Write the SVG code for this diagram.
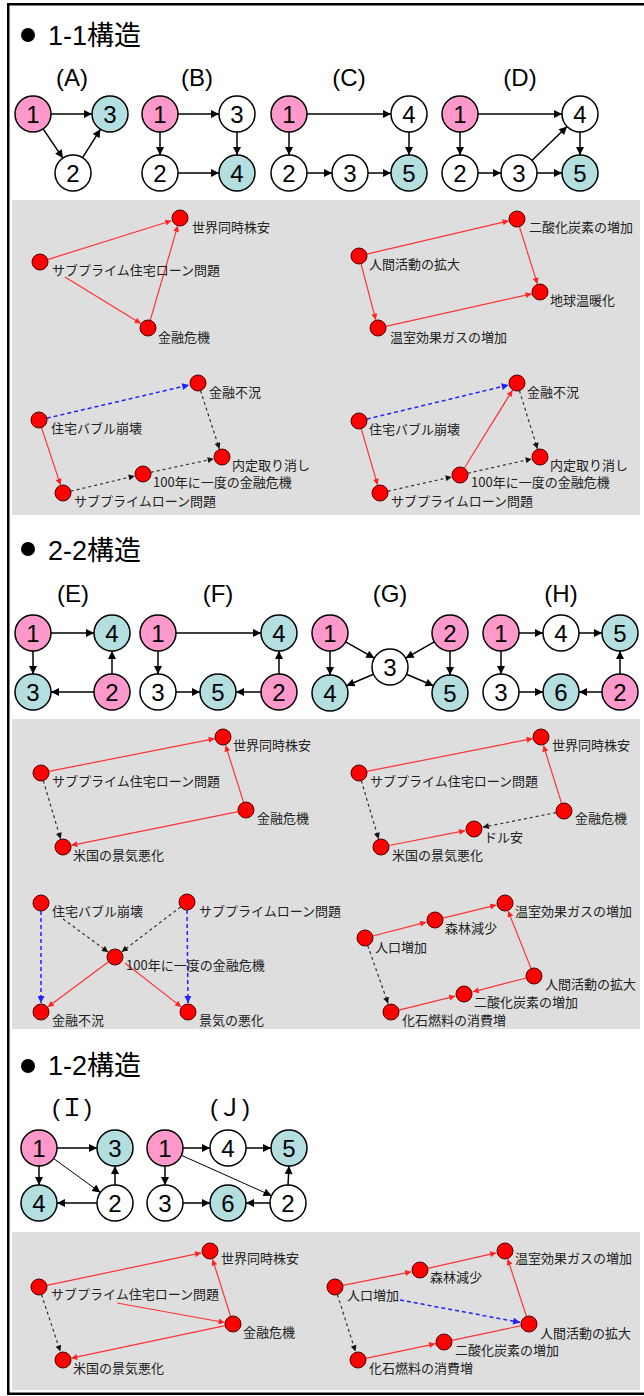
<svg xmlns="http://www.w3.org/2000/svg" width="644" height="1396" viewBox="0 0 644 1396">
<style>
.n circle{stroke:#000;stroke-width:1.5}
.p{fill:#ff99cc}.t{fill:#b4dfe0}.w{fill:#fff}
.num{font:24px "Liberation Sans",sans-serif;text-anchor:middle;fill:#000}
.lab{font:24px "Liberation Sans","Noto Sans CJK JP",sans-serif;text-anchor:middle;fill:#000}
.hd{font:27px "Liberation Sans","Noto Sans CJK JP",sans-serif;fill:#000}
.d circle{fill:#f00;stroke:#500;stroke-width:1}
.d text{font:13px "Noto Sans CJK JP",sans-serif;fill:#222}
.e{stroke:#000;stroke-width:1.5;fill:none;marker-end:url(#ab)}
.e1{stroke:#000;stroke-width:1;fill:none;marker-end:url(#ab)}
.r{stroke:#f33;stroke-width:1.2;fill:none;marker-end:url(#ar)}
.k{stroke:#333;stroke-width:1.2;stroke-dasharray:3 3;fill:none;marker-end:url(#ak)}
.b{stroke:#22f;stroke-width:1.5;stroke-dasharray:4 3;fill:none;marker-end:url(#au)}
.panel{fill:#dedede}
</style>
<defs>
<marker id="ab" viewBox="0 0 10 10" refX="10" refY="5" markerWidth="9" markerHeight="8" markerUnits="userSpaceOnUse" orient="auto"><path d="M0,0L10,5L0,10z" fill="#000"/></marker>
<marker id="ar" viewBox="0 0 10 10" refX="10" refY="5" markerWidth="8" markerHeight="6" markerUnits="userSpaceOnUse" orient="auto"><path d="M0,0L10,5L0,10z" fill="#f22"/></marker>
<marker id="ak" viewBox="0 0 10 10" refX="10" refY="5" markerWidth="8" markerHeight="6" markerUnits="userSpaceOnUse" orient="auto"><path d="M0,0L10,5L0,10z" fill="#111"/></marker>
<marker id="au" viewBox="0 0 10 10" refX="10" refY="5" markerWidth="8" markerHeight="7" markerUnits="userSpaceOnUse" orient="auto"><path d="M0,0L10,5L0,10z" fill="#22f"/></marker>
</defs>
<rect x="0" y="0" width="644" height="1396" fill="#fff"/>
<rect x="8.25" y="4.25" width="640" height="1389.5" fill="none" stroke="#000" stroke-width="2.5"/>

<!-- panels -->
<rect class="panel" x="12" y="200" width="628" height="315"/>
<rect class="panel" x="12" y="719" width="628" height="310"/>
<rect class="panel" x="12" y="1232" width="628" height="158"/>

<!-- headers -->
<g id="h1"><circle cx="28" cy="35" r="7"/><text class="hd" x="48" y="45">1-1構造</text></g>
<g id="h2"><circle cx="28" cy="549" r="7"/><text class="hd" x="48" y="560">2-2構造</text></g>
<g id="h3"><circle cx="28" cy="1066" r="7"/><text class="hd" x="48" y="1075">1-2構造</text></g>

<!-- diagram labels -->
<g id="labels">
<text class="lab" x="72" y="86">(A)</text>
<text class="lab" x="197" y="86">(B)</text>
<text class="lab" x="349" y="86">(C)</text>
<text class="lab" x="520" y="86">(D)</text>
<text class="lab" x="73" y="602">(E)</text>
<text class="lab" x="218" y="602">(F)</text>
<text class="lab" x="390" y="602">(G)</text>
<text class="lab" x="561" y="602">(H)</text>
<text class="lab" x="72" y="1116">(Ｉ)</text>
<text class="lab" x="230" y="1116">(Ｊ)</text>
</g>

<!-- connectors -->
<g id="connectors">
<line class="e" x1="51" y1="114" x2="92" y2="114"/>
<line class="e" x1="43.1" y1="128.9" x2="62.9" y2="158.1"/>
<line class="e" x1="82.6" y1="157.7" x2="100.4" y2="129.3"/>
<line class="e" x1="178" y1="114" x2="219" y2="114"/>
<line class="e" x1="160" y1="132" x2="160" y2="155"/>
<line class="e" x1="237" y1="132" x2="237" y2="155"/>
<line class="e" x1="178" y1="173" x2="219" y2="173"/>
<line class="e" x1="307" y1="114" x2="391" y2="114"/>
<line class="e" x1="289" y1="132" x2="289" y2="155"/>
<line class="e" x1="307" y1="173" x2="332" y2="173"/>
<line class="e" x1="368" y1="173" x2="391" y2="173"/>
<line class="e" x1="409" y1="132" x2="409" y2="155"/>
<line class="e" x1="478" y1="114" x2="562" y2="114"/>
<line class="e" x1="460" y1="132" x2="460" y2="155"/>
<line class="e" x1="478" y1="173" x2="501" y2="173"/>
<line class="e" x1="537" y1="173" x2="562" y2="173"/>
<line class="e" x1="580" y1="132" x2="580" y2="155"/>
<line class="e" x1="531.9" y1="160.5" x2="567.1" y2="126.5"/>
<line class="e" x1="51" y1="633" x2="94" y2="633"/>
<line class="e" x1="33" y1="651" x2="33" y2="674"/>
<line class="e" x1="94" y1="692" x2="51" y2="692"/>
<line class="e" x1="112" y1="674" x2="112" y2="651"/>
<line class="e" x1="176" y1="633" x2="261" y2="633"/>
<line class="e" x1="158" y1="651" x2="158" y2="674"/>
<line class="e" x1="176" y1="692" x2="200" y2="692"/>
<line class="e" x1="261" y1="692" x2="236" y2="692"/>
<line class="e" x1="279" y1="674" x2="279" y2="651"/>
<line class="e" x1="345.7" y1="641.9" x2="374.3" y2="658.1"/>
<line class="e" x1="434.3" y1="641.9" x2="405.7" y2="658.1"/>
<line class="e" x1="330" y1="651" x2="330" y2="675"/>
<line class="e" x1="450" y1="651" x2="450" y2="675"/>
<line class="e" x1="373.5" y1="674.2" x2="346.5" y2="685.8"/>
<line class="e" x1="406.5" y1="674.2" x2="433.5" y2="685.8"/>
<line class="e" x1="519" y1="633" x2="543" y2="633"/>
<line class="e" x1="579" y1="633" x2="602" y2="633"/>
<line class="e" x1="501" y1="651" x2="501" y2="674"/>
<line class="e" x1="519" y1="692" x2="543" y2="692"/>
<line class="e" x1="602" y1="692" x2="579" y2="692"/>
<line class="e" x1="620" y1="674" x2="620" y2="651"/>
<line class="e" x1="57" y1="1148" x2="97" y2="1148"/>
<line class="e" x1="39" y1="1166" x2="39" y2="1185"/>
<line class="e" x1="115" y1="1185" x2="115" y2="1166"/>
<line class="e" x1="97" y1="1203" x2="57" y2="1203"/>
<line class="e1" x1="53.6" y1="1158.5" x2="100.4" y2="1192.5"/>
<line class="e" x1="183" y1="1148" x2="210" y2="1148"/>
<line class="e" x1="246" y1="1148" x2="271" y2="1148"/>
<line class="e" x1="165" y1="1166" x2="165" y2="1185"/>
<line class="e" x1="183" y1="1203" x2="210" y2="1203"/>
<line class="e" x1="270" y1="1203" x2="246" y2="1203"/>
<line class="e" x1="288" y1="1185" x2="289" y2="1166"/>
<line class="e1" x1="181.4" y1="1155.3" x2="271.6" y2="1195.7"/>

<line class="r" x1="47.6" y1="259.6" x2="171.4" y2="220.7"/>
<line class="r" x1="65" y1="277" x2="140.8" y2="323.5"/>
<line class="r" x1="150.2" y1="320.3" x2="177.8" y2="225.7"/>
<line class="b" x1="46.8" y1="418.2" x2="189.2" y2="385"/>
<line class="k" x1="200.5" y1="390.6" x2="219.4" y2="448.9"/>
<line class="r" x1="41.5" y1="427.6" x2="60.5" y2="484.9"/>
<line class="k" x1="70.8" y1="491.2" x2="134.7" y2="476"/>
<line class="k" x1="150.8" y1="472.3" x2="213.7" y2="458.8"/>
<line class="r" x1="366.8" y1="254.2" x2="508.7" y2="220.9"/>
<line class="r" x1="519.4" y1="226.6" x2="537.4" y2="283.9"/>
<line class="r" x1="361" y1="263.7" x2="375.8" y2="319.8"/>
<line class="r" x1="385.8" y1="326.3" x2="531.7" y2="293.8"/>
<line class="b" x1="366.8" y1="419.1" x2="508.7" y2="385"/>
<line class="k" x1="519.4" y1="390.6" x2="537.5" y2="448.9"/>
<line class="r" x1="361.2" y1="428.7" x2="377.6" y2="484.8"/>
<line class="k" x1="387.8" y1="491.2" x2="451.7" y2="476.9"/>
<line class="k" x1="467.8" y1="473.2" x2="531.7" y2="458.9"/>
<line class="r" x1="464.2" y1="468.2" x2="512.5" y2="390.2"/>
<line class="r" x1="48.8" y1="771.4" x2="214.7" y2="738.6"/>
<line class="r" x1="243.6" y1="802.4" x2="225.6" y2="745.4"/>
<line class="r" x1="238.2" y1="811.6" x2="71.3" y2="845.3"/>
<line class="k" x1="43.3" y1="780.7" x2="60.6" y2="838.9"/>
<line class="k" x1="63" y1="919" x2="108.1" y2="952"/>
<line class="k" x1="180.6" y1="906.9" x2="121.8" y2="951.8"/>
<line class="r" x1="108.6" y1="961.8" x2="47.8" y2="1007"/>
<line class="r" x1="125" y1="963" x2="181.2" y2="1006.9"/>
<line class="b" x1="41" y1="911" x2="41" y2="1003"/>
<line class="b" x1="187" y1="910" x2="188" y2="1003"/>
<line class="r" x1="366.8" y1="771.4" x2="532.7" y2="738.6"/>
<line class="r" x1="561.6" y1="803.4" x2="543.5" y2="745.6"/>
<line class="k" x1="556.2" y1="812.6" x2="482.8" y2="827.2"/>
<line class="k" x1="361.3" y1="780.7" x2="378.6" y2="838.9"/>
<line class="r" x1="388.9" y1="845.5" x2="465.2" y2="830.7"/>
<line class="r" x1="372.7" y1="936" x2="426.3" y2="922.2"/>
<line class="r" x1="442.8" y1="918.1" x2="496.3" y2="905.1"/>
<line class="r" x1="531.1" y1="968.6" x2="508.1" y2="910.9"/>
<line class="r" x1="526.3" y1="978" x2="472.7" y2="991.8"/>
<line class="r" x1="398.8" y1="1010.1" x2="455.3" y2="996.1"/>
<line class="k" x1="367.7" y1="945.6" x2="388.1" y2="1003.5"/>
<line class="r" x1="46.8" y1="1285.4" x2="201.2" y2="1252.9"/>
<line class="r" x1="117" y1="1303" x2="224.6" y2="1322.5"/>
<line class="r" x1="230.6" y1="1316.4" x2="212.6" y2="1259.4"/>
<line class="r" x1="225.2" y1="1325.7" x2="71.3" y2="1358.2"/>
<line class="k" x1="41.5" y1="1294.6" x2="60.3" y2="1351.5"/>
<line class="r" x1="342.8" y1="1285.4" x2="411.2" y2="1271.8"/>
<line class="r" x1="427.8" y1="1268.3" x2="496.2" y2="1252.9"/>
<line class="r" x1="526.5" y1="1316.4" x2="507.7" y2="1259.1"/>
<line class="r" x1="521.2" y1="1325.7" x2="435.2" y2="1343.9"/>
<line class="r" x1="365.8" y1="1358.4" x2="435.2" y2="1343.8"/>
<line class="k" x1="337.4" y1="1294.6" x2="355.4" y2="1351.4"/>
<line class="b" x1="400" y1="1300" x2="520.2" y2="1322.4"/>
</g>

<g id="A1" class="n"><circle class="p" cx="33" cy="114" r="18"/><text class="num" x="33" y="122.5">1</text></g>
<g id="A3" class="n"><circle class="t" cx="110" cy="114" r="18"/><text class="num" x="110" y="122.5">3</text></g>
<g id="A2" class="n"><circle class="w" cx="73" cy="173" r="18"/><text class="num" x="73" y="181.5">2</text></g>

<g id="B1" class="n"><circle class="p" cx="160" cy="114" r="18"/><text class="num" x="160" y="122.5">1</text></g>
<g id="B3" class="n"><circle class="w" cx="237" cy="114" r="18"/><text class="num" x="237" y="122.5">3</text></g>
<g id="B2" class="n"><circle class="w" cx="160" cy="173" r="18"/><text class="num" x="160" y="181.5">2</text></g>
<g id="B4" class="n"><circle class="t" cx="237" cy="173" r="18"/><text class="num" x="237" y="181.5">4</text></g>

<g id="C1" class="n"><circle class="p" cx="289" cy="114" r="18"/><text class="num" x="289" y="122.5">1</text></g>
<g id="C4" class="n"><circle class="w" cx="409" cy="114" r="18"/><text class="num" x="409" y="122.5">4</text></g>
<g id="C2" class="n"><circle class="w" cx="289" cy="173" r="18"/><text class="num" x="289" y="181.5">2</text></g>
<g id="C3" class="n"><circle class="w" cx="350" cy="173" r="18"/><text class="num" x="350" y="181.5">3</text></g>
<g id="C5" class="n"><circle class="t" cx="409" cy="173" r="18"/><text class="num" x="409" y="181.5">5</text></g>

<g id="D1" class="n"><circle class="p" cx="460" cy="114" r="18"/><text class="num" x="460" y="122.5">1</text></g>
<g id="D4" class="n"><circle class="w" cx="580" cy="114" r="18"/><text class="num" x="580" y="122.5">4</text></g>
<g id="D2" class="n"><circle class="w" cx="460" cy="173" r="18"/><text class="num" x="460" y="181.5">2</text></g>
<g id="D3" class="n"><circle class="w" cx="519" cy="173" r="18"/><text class="num" x="519" y="181.5">3</text></g>
<g id="D5" class="n"><circle class="t" cx="580" cy="173" r="18"/><text class="num" x="580" y="181.5">5</text></g>

<g id="E1" class="n"><circle class="p" cx="33" cy="633" r="18"/><text class="num" x="33" y="641.5">1</text></g>
<g id="E4" class="n"><circle class="t" cx="112" cy="633" r="18"/><text class="num" x="112" y="641.5">4</text></g>
<g id="E3" class="n"><circle class="t" cx="33" cy="692" r="18"/><text class="num" x="33" y="700.5">3</text></g>
<g id="E2" class="n"><circle class="p" cx="112" cy="692" r="18"/><text class="num" x="112" y="700.5">2</text></g>

<g id="F1" class="n"><circle class="p" cx="158" cy="633" r="18"/><text class="num" x="158" y="641.5">1</text></g>
<g id="F4" class="n"><circle class="t" cx="279" cy="633" r="18"/><text class="num" x="279" y="641.5">4</text></g>
<g id="F3" class="n"><circle class="w" cx="158" cy="692" r="18"/><text class="num" x="158" y="700.5">3</text></g>
<g id="F5" class="n"><circle class="t" cx="218" cy="692" r="18"/><text class="num" x="218" y="700.5">5</text></g>
<g id="F2" class="n"><circle class="p" cx="279" cy="692" r="18"/><text class="num" x="279" y="700.5">2</text></g>

<g id="G1" class="n"><circle class="p" cx="330" cy="633" r="18"/><text class="num" x="330" y="641.5">1</text></g>
<g id="G2" class="n"><circle class="p" cx="450" cy="633" r="18"/><text class="num" x="450" y="641.5">2</text></g>
<g id="G3" class="n"><circle class="w" cx="390" cy="667" r="18"/><text class="num" x="390" y="675.5">3</text></g>
<g id="G4" class="n"><circle class="t" cx="330" cy="693" r="18"/><text class="num" x="330" y="701.5">4</text></g>
<g id="G5" class="n"><circle class="t" cx="450" cy="693" r="18"/><text class="num" x="450" y="701.5">5</text></g>

<g id="H1" class="n"><circle class="p" cx="501" cy="633" r="18"/><text class="num" x="501" y="641.5">1</text></g>
<g id="H4" class="n"><circle class="w" cx="561" cy="633" r="18"/><text class="num" x="561" y="641.5">4</text></g>
<g id="H5" class="n"><circle class="t" cx="620" cy="633" r="18"/><text class="num" x="620" y="641.5">5</text></g>
<g id="H3" class="n"><circle class="w" cx="501" cy="692" r="18"/><text class="num" x="501" y="700.5">3</text></g>
<g id="H6" class="n"><circle class="t" cx="561" cy="692" r="18"/><text class="num" x="561" y="700.5">6</text></g>
<g id="H2" class="n"><circle class="p" cx="620" cy="692" r="18"/><text class="num" x="620" y="700.5">2</text></g>

<g id="I1" class="n"><circle class="p" cx="39" cy="1148" r="18"/><text class="num" x="39" y="1156.5">1</text></g>
<g id="I3" class="n"><circle class="t" cx="115" cy="1148" r="18"/><text class="num" x="115" y="1156.5">3</text></g>
<g id="I4" class="n"><circle class="t" cx="39" cy="1203" r="18"/><text class="num" x="39" y="1211.5">4</text></g>
<g id="I2" class="n"><circle class="w" cx="115" cy="1203" r="18"/><text class="num" x="115" y="1211.5">2</text></g>

<g id="J1" class="n"><circle class="p" cx="165" cy="1148" r="18"/><text class="num" x="165" y="1156.5">1</text></g>
<g id="J4" class="n"><circle class="w" cx="228" cy="1148" r="18"/><text class="num" x="228" y="1156.5">4</text></g>
<g id="J5" class="n"><circle class="t" cx="289" cy="1148" r="18"/><text class="num" x="289" y="1156.5">5</text></g>
<g id="J3" class="n"><circle class="w" cx="165" cy="1203" r="18"/><text class="num" x="165" y="1211.5">3</text></g>
<g id="J6" class="n"><circle class="t" cx="228" cy="1203" r="18"/><text class="num" x="228" y="1211.5">6</text></g>
<g id="J2" class="n"><circle class="w" cx="288" cy="1203" r="18"/><text class="num" x="288" y="1211.5">2</text></g>

<g id="p1a-S" class="d"><circle cx="40" cy="262" r="8"/><text x="52" y="275">サブプライム住宅ローン問題</text></g>
<g id="p1a-W" class="d"><circle cx="180" cy="218" r="8"/><text x="192" y="232">世界同時株安</text></g>
<g id="p1a-K" class="d"><circle cx="148" cy="328" r="8"/><text x="158" y="342">金融危機</text></g>
<g id="p1b-F" class="d"><circle cx="198" cy="383" r="8"/><text x="209" y="397">金融不況</text></g>
<g id="p1b-H" class="d"><circle cx="39" cy="420" r="8"/><text x="51" y="433">住宅バブル崩壊</text></g>
<g id="p1b-N" class="d"><circle cx="222" cy="457" r="8"/><text x="232" y="470">内定取り消し</text></g>
<g id="p1b-C" class="d"><circle cx="143" cy="474" r="8"/><text x="153" y="487">100年に一度の金融危機</text></g>
<g id="p1b-L" class="d"><circle cx="63" cy="493" r="8"/><text x="74" y="506">サブプライムローン問題</text></g>
<g id="p1c-D" class="d"><circle cx="517" cy="219" r="8"/><text x="529" y="232">二酸化炭素の増加</text></g>
<g id="p1c-P" class="d"><circle cx="359" cy="256" r="8"/><text x="369" y="269">人間活動の拡大</text></g>
<g id="p1c-G" class="d"><circle cx="540" cy="292" r="8"/><text x="550" y="305">地球温暖化</text></g>
<g id="p1c-O" class="d"><circle cx="378" cy="328" r="8"/><text x="390" y="342">温室効果ガスの増加</text></g>
<g id="p1d-F" class="d"><circle cx="517" cy="383" r="8"/><text x="527" y="397">金融不況</text></g>
<g id="p1d-H" class="d"><circle cx="359" cy="421" r="8"/><text x="369" y="434">住宅バブル崩壊</text></g>
<g id="p1d-N" class="d"><circle cx="540" cy="457" r="8"/><text x="550" y="470">内定取り消し</text></g>
<g id="p1d-C" class="d"><circle cx="460" cy="475" r="8"/><text x="471" y="487">100年に一度の金融危機</text></g>
<g id="p1d-L" class="d"><circle cx="380" cy="493" r="8"/><text x="391" y="506">サブプライムローン問題</text></g>
<g id="p2a-W" class="d"><circle cx="223" cy="737" r="8"/><text x="233" y="750">世界同時株安</text></g>
<g id="p2a-S" class="d"><circle cx="41" cy="773" r="8"/><text x="52" y="786">サブプライム住宅ローン問題</text></g>
<g id="p2a-K" class="d"><circle cx="246" cy="810" r="8"/><text x="257" y="823">金融危機</text></g>
<g id="p2a-U" class="d"><circle cx="63" cy="847" r="8"/><text x="73" y="860">米国の景気悪化</text></g>
<g id="p2b-H" class="d"><circle cx="41" cy="903" r="8"/><text x="52" y="916">住宅バブル崩壊</text></g>
<g id="p2b-L" class="d"><circle cx="187" cy="902" r="8"/><text x="199" y="916">サブプライムローン問題</text></g>
<g id="p2b-C" class="d"><circle cx="115" cy="957" r="8"/><text x="126" y="970">100年に一度の金融危機</text></g>
<g id="p2b-F" class="d"><circle cx="41" cy="1012" r="8"/><text x="52" y="1025">金融不況</text></g>
<g id="p2b-E" class="d"><circle cx="188" cy="1012" r="8"/><text x="199" y="1025">景気の悪化</text></g>
<g id="p2c-W" class="d"><circle cx="541" cy="737" r="8"/><text x="552" y="750">世界同時株安</text></g>
<g id="p2c-S" class="d"><circle cx="359" cy="773" r="8"/><text x="370" y="786">サブプライム住宅ローン問題</text></g>
<g id="p2c-K" class="d"><circle cx="564" cy="811" r="8"/><text x="575" y="823">金融危機</text></g>
<g id="p2c-Y" class="d"><circle cx="474" cy="829" r="8"/><text x="484" y="842">ドル安</text></g>
<g id="p2c-U" class="d"><circle cx="381" cy="847" r="8"/><text x="392" y="860">米国の景気悪化</text></g>
<g id="p2d-O" class="d"><circle cx="505" cy="903" r="8"/><text x="515" y="916">温室効果ガスの増加</text></g>
<g id="p2d-R" class="d"><circle cx="435" cy="920" r="8"/><text x="445" y="933">森林減少</text></g>
<g id="p2d-J" class="d"><circle cx="365" cy="938" r="8"/><text x="375" y="952">人口増加</text></g>
<g id="p2d-P" class="d"><circle cx="534" cy="976" r="8"/><text x="545" y="989">人間活動の拡大</text></g>
<g id="p2d-D" class="d"><circle cx="464" cy="994" r="8"/><text x="474" y="1007">二酸化炭素の増加</text></g>
<g id="p2d-X" class="d"><circle cx="391" cy="1012" r="8"/><text x="402" y="1025">化石燃料の消費増</text></g>
<g id="p3a-W" class="d"><circle cx="210" cy="1251" r="8"/><text x="221" y="1263">世界同時株安</text></g>
<g id="p3a-S" class="d"><circle cx="39" cy="1287" r="8"/><text x="51" y="1299">サブプライム住宅ローン問題</text></g>
<g id="p3a-K" class="d"><circle cx="233" cy="1324" r="8"/><text x="243" y="1337">金融危機</text></g>
<g id="p3a-U" class="d"><circle cx="63" cy="1360" r="8"/><text x="73" y="1373">米国の景気悪化</text></g>
<g id="p3b-O" class="d"><circle cx="505" cy="1251" r="8"/><text x="515" y="1263">温室効果ガスの増加</text></g>
<g id="p3b-R" class="d"><circle cx="420" cy="1270" r="8"/><text x="430" y="1282">森林減少</text></g>
<g id="p3b-J" class="d"><circle cx="335" cy="1287" r="8"/><text x="347" y="1300">人口増加</text></g>
<g id="p3b-P" class="d"><circle cx="529" cy="1324" r="8"/><text x="540" y="1338">人間活動の拡大</text></g>
<g id="p3b-D" class="d"><circle cx="444" cy="1342" r="8"/><text x="455" y="1355">二酸化炭素の増加</text></g>
<g id="p3b-X" class="d"><circle cx="358" cy="1360" r="8"/><text x="369" y="1373">化石燃料の消費増</text></g>
</svg>
